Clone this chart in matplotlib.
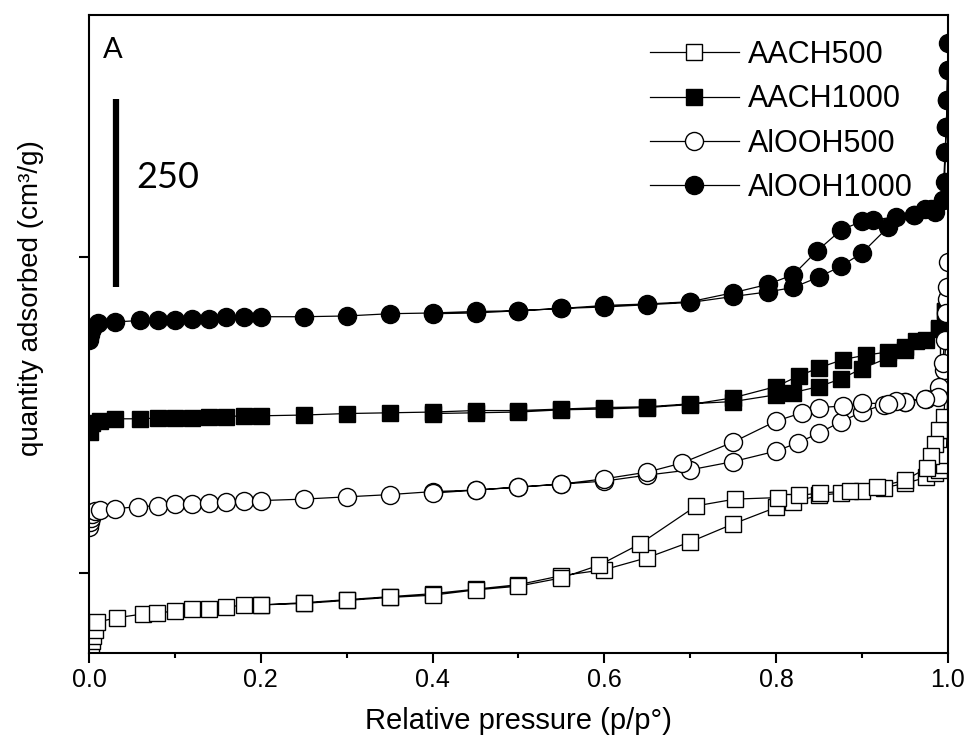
import matplotlib
matplotlib.use("Agg")
import matplotlib.pyplot as plt
from matplotlib.ticker import MultipleLocator

# relative pressure / quantity adsorbed (cm3/g, curves offset), adsorption then desorption
aach500_p = [0.001, 0.002, 0.003, 0.005, 0.007, 0.009, 0.033, 0.063, 0.079, 0.10, 0.12, 0.14,
             0.16, 0.18, 0.20, 0.25, 0.30, 0.35, 0.40, 0.45, 0.50, 0.55, 0.60, 0.65, 0.70,
             0.75, 0.80, 0.82, 0.85, 0.875, 0.90, 0.925, 0.95, 0.975, 0.985, 0.99, 0.995,
             0.998, 0.999, 1.0,
             0.998, 0.995, 0.99, 0.985, 0.98, 0.976, 0.95, 0.917, 0.886, 0.851, 0.826, 0.802,
             0.752, 0.707, 0.641, 0.594, 0.55, 0.50, 0.45, 0.40, 0.35, 0.30, 0.25, 0.20]
aach500_q = [7, 11, 16, 23, 31, 41, 47, 52, 53, 56, 59, 59,
             61, 64, 64, 67, 71, 75, 79, 85, 91, 103, 111, 127, 148,
             172, 194, 201, 210, 213, 216, 220, 226, 234, 240, 244, 250,
             264, 297, 403,
             363, 314, 297, 279, 263, 247, 230, 221, 216, 213, 210, 207,
             205, 196, 145, 117, 100, 89, 84, 77, 74, 70, 66, 64]

aach1000_p = [0.001, 0.003, 0.013, 0.03, 0.06, 0.08, 0.10, 0.12, 0.14, 0.16, 0.18, 0.20,
              0.25, 0.30, 0.35, 0.40, 0.45, 0.50, 0.55, 0.60, 0.65, 0.70, 0.75, 0.80, 0.82,
              0.85, 0.875, 0.90, 0.93, 0.95, 0.975, 0.99, 0.997, 1.0,
              0.997, 0.99, 0.963, 0.95, 0.93, 0.905, 0.878, 0.85, 0.826, 0.80, 0.75, 0.70,
              0.65, 0.60, 0.55, 0.50, 0.45, 0.40]
aach1000_q = [295, 307, 309, 312, 312, 313, 313, 313, 315, 315, 316, 316,
              317, 319, 320, 321, 323, 323, 325, 327, 328, 332, 335, 344, 347,
              355, 365, 379, 393, 404, 417, 431, 455, 471,
              455, 433, 415, 407, 401, 397, 391, 380, 369, 355, 340, 331,
              327, 325, 324, 321, 320, 319]

alooh500_p = [0.0005, 0.001, 0.002, 0.004, 0.007, 0.013, 0.03, 0.057, 0.08, 0.10, 0.12, 0.14,
              0.16, 0.18, 0.20, 0.25, 0.30, 0.35, 0.40, 0.45, 0.50, 0.55, 0.60, 0.65, 0.70,
              0.75, 0.80, 0.825, 0.85, 0.875, 0.90, 0.925, 0.95, 0.975, 0.99, 0.995, 0.998,
              0.999, 1.0,
              0.999, 0.998, 0.996, 0.994, 0.99, 0.988, 0.973, 0.95, 0.94, 0.93, 0.90, 0.878,
              0.85, 0.83, 0.80, 0.75, 0.69, 0.65, 0.60, 0.55, 0.50, 0.45, 0.40]
alooh500_q = [168, 175, 180, 185, 189, 191, 192, 195, 196, 199, 199, 200,
              201, 203, 203, 205, 208, 211, 215, 217, 221, 225, 229, 237, 244,
              255, 269, 280, 293, 308, 321, 331, 335, 339, 347, 377, 417,
              471, 521,
              488, 453, 417, 387, 355, 341, 339, 335, 336, 332, 333, 329,
              327, 320, 309, 281, 253, 241, 232, 225, 221, 217, 213]

alooh1000_p = [0.0005, 0.001, 0.003, 0.01, 0.03, 0.06, 0.08, 0.10, 0.12, 0.14, 0.16, 0.18,
               0.20, 0.25, 0.30, 0.35, 0.40, 0.45, 0.50, 0.55, 0.60, 0.65, 0.70, 0.75, 0.79,
               0.82, 0.85, 0.875, 0.90, 0.93, 0.96, 0.98, 0.994, 0.996, 0.997, 0.998, 0.999,
               0.9995, 1.0,
               0.9995, 0.999, 0.998, 0.994, 0.985, 0.973, 0.96, 0.94, 0.913, 0.90, 0.876,
               0.847, 0.82, 0.79, 0.75, 0.70, 0.65, 0.60, 0.55, 0.50, 0.45, 0.40]
alooh1000_q = [417, 424, 431, 440, 441, 443, 444, 444, 445, 445, 447, 447,
               448, 448, 449, 452, 453, 455, 456, 459, 461, 464, 467, 475, 481,
               487, 501, 515, 533, 567, 584, 591, 604, 628, 667, 701, 737,
               777, 813,
               777, 737, 701, 604, 588, 591, 584, 581, 577, 575, 564,
               535, 504, 491, 480, 468, 465, 463, 459, 456, 453, 452]

labels = ["AACH500", "AACH1000", "AlOOH500", "AlOOH1000"]

fig = plt.figure(figsize=(9.69, 7.46), dpi=100)
ax = fig.add_axes([0.0918, 0.1247, 0.8865, 0.8552])

lw = 0.9
ax.plot(aach500_p, aach500_q, "-s", color="black", lw=lw, ms=11, mfc="white",
        mec="black", mew=1.0, label=labels[0])
ax.plot(aach1000_p, aach1000_q, "-s", color="black", lw=lw, ms=11, mfc="black",
        mec="black", mew=1.0, label=labels[1])
ax.plot(alooh500_p, alooh500_q, "-o", color="black", lw=lw, ms=13, mfc="white",
        mec="black", mew=1.0, label=labels[2])
ax.plot(alooh1000_p, alooh1000_q, "-o", color="black", lw=lw, ms=13, mfc="black",
        mec="black", mew=1.0, label=labels[3])

# scale bar
ax.plot([0.031, 0.031], [488, 738], color="black", lw=4.5, solid_capstyle="butt")
ax.text(0.055, 634, "250", fontsize=26, family="Lato", va="center", ha="left")
ax.text(0.016, 0.945, "A", fontsize=21, family="Lato", va="center", ha="left",
        transform=ax.transAxes)

ax.set_xlim(0, 1)
ax.set_ylim(0, 850)
ax.xaxis.set_major_locator(MultipleLocator(0.2))
ax.xaxis.set_minor_locator(MultipleLocator(0.1))
ax.set_yticks([107, 527])
ax.set_yticklabels([])
ax.tick_params(axis="both", which="major", direction="out", length=7, width=1.5)
ax.tick_params(axis="x", which="minor", direction="out", length=3.5, width=1.5)
ax.set_xticklabels([f"{v:.1f}" for v in ax.get_xticks()], family="Liberation Sans",
                   fontsize=18)
for s in ax.spines.values():
    s.set_linewidth(1.5)

ax.set_xlabel("Relative pressure (p/p°)", family="Liberation Sans", fontsize=21,
              labelpad=11)
ax.set_ylabel("quantity adsorbed (cm³/g)", family="Liberation Sans", fontsize=20)
ax.yaxis.set_label_coords(-0.052, 0.556)

leg = ax.legend(loc="upper left", bbox_to_anchor=(0.653, 0.961), frameon=False,
                prop={"family": "Liberation Sans", "size": 22}, handlelength=2.9,
                handletextpad=0.3, labelspacing=0.47, borderpad=0, borderaxespad=0)

fig.savefig("out.png", dpi=100)
